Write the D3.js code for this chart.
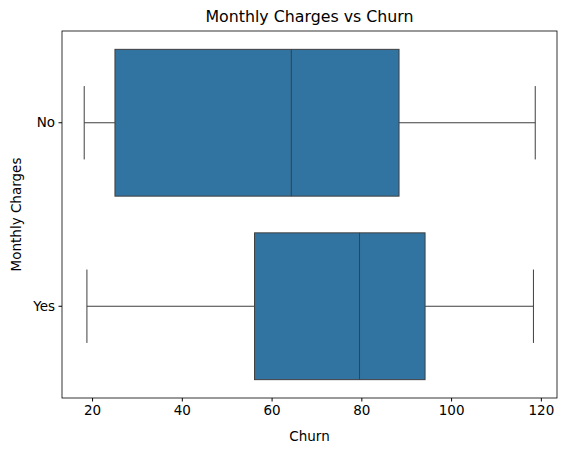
<!DOCTYPE html>
<html><head><meta charset="utf-8">
<script src="https://cdn.jsdelivr.net/npm/d3@7"></script>
<style>body{margin:0;background:#fff}text{font-family:"DejaVu Sans",sans-serif}</style>
</head><body><svg id="c" width="567" height="453"></svg>
<script>
const categories = ["No", "Yes"];
const whiskerLow = [18.25, 18.85];
const q1 = [25.1, 56.2];
const median = [64.4, 79.6];
const q3 = [88.4, 94.2];
const whiskerHigh = [118.75, 118.35];
const xTicks = [20, 40, 60, 80, 100, 120];

const svg = d3.select("#c");
const L = 62, R = 557, T = 31, B = 398;
const x = d3.scaleLinear().domain([13.3, 123.6]).range([L, R]);
const y = d3.scaleBand().domain(categories).range([T, B]).paddingInner(0).paddingOuter(0);
const bw = y.bandwidth() * 0.8;
const stroke = "#3f3f3f";

categories.forEach((c, i) => {
  const cy = y(c) + y.bandwidth() / 2;
  const g = svg.append("g");
  g.append("line").attr("x1", x(whiskerLow[i])).attr("x2", x(q1[i])).attr("y1", cy).attr("y2", cy).attr("stroke", stroke);
  g.append("line").attr("x1", x(q3[i])).attr("x2", x(whiskerHigh[i])).attr("y1", cy).attr("y2", cy).attr("stroke", stroke);
  [whiskerLow[i], whiskerHigh[i]].forEach(v => g.append("line").attr("x1", x(v)).attr("x2", x(v)).attr("y1", cy - bw / 4).attr("y2", cy + bw / 4).attr("stroke", stroke));
  g.append("rect").attr("x", x(q1[i])).attr("y", cy - bw / 2).attr("width", x(q3[i]) - x(q1[i])).attr("height", bw).attr("fill", "#3274a1").attr("stroke", stroke);
  g.append("line").attr("x1", x(median[i])).attr("x2", x(median[i])).attr("y1", cy - bw / 2).attr("y2", cy + bw / 2).attr("stroke", stroke);
});

svg.append("rect").attr("x", L).attr("y", T).attr("width", R - L).attr("height", B - T).attr("fill", "none").attr("stroke", "#000").attr("stroke-width", 0.8);

const xa = svg.append("g").attr("transform", `translate(0,${B})`).call(d3.axisBottom(x).tickValues(xTicks).tickSize(3.5).tickPadding(3.5));
const ya = svg.append("g").attr("transform", `translate(${L},0)`).call(d3.axisLeft(y).tickSize(3.5).tickPadding(3.5));
[xa, ya].forEach(a => { a.select(".domain").remove(); a.selectAll("text").attr("font-size", 13.5).attr("fill", "#000").style("font-family", "DejaVu Sans"); a.selectAll("line").attr("stroke", "#000"); });

svg.append("text").attr("x", (L + R) / 2).attr("y", 22).attr("text-anchor", "middle").attr("font-size", 15.8).text("Monthly Charges vs Churn");
svg.append("text").attr("x", (L + R) / 2).attr("y", 441).attr("text-anchor", "middle").attr("font-size", 13.5).text("Churn");
svg.append("text").attr("transform", `translate(21,${(T + B) / 2}) rotate(-90)`).attr("text-anchor", "middle").attr("font-size", 13.5).text("Monthly Charges");
</script></body></html>
